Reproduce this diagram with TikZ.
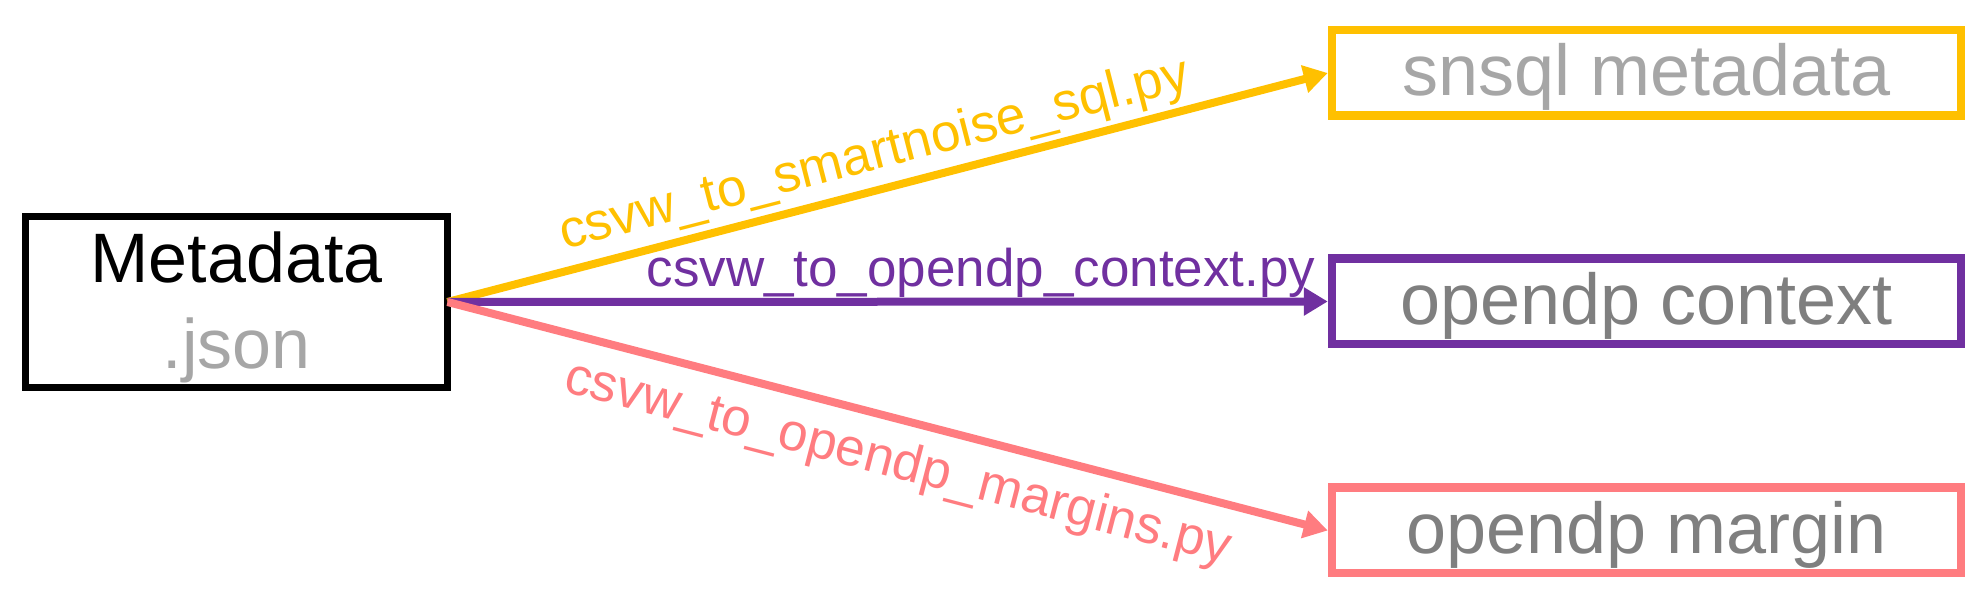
\documentclass[tikz,border=0pt]{standalone}
\usepackage{fontspec}
\setmainfont{Liberation Sans}
\usetikzlibrary{arrows.meta,calc}
\definecolor{ylw}{HTML}{FFC000}
\definecolor{prp}{HTML}{7030A0}
\definecolor{pnk}{HTML}{FF7C80}
\definecolor{gryL}{HTML}{A6A6A6}
\definecolor{gryD}{HTML}{7F7F7F}
\begin{document}
\begin{tikzpicture}[x=0.5pt,y=-0.5pt,
  outbox/.style={draw, line width=4.25pt, minimum width=314.5pt, minimum height=42.75pt,
    inner sep=0pt, font=\fontsize{36pt}{43pt}\selectfont, text height=26pt, text depth=3pt},
  conn/.style={line width=4pt, -{Triangle[length=12pt,width=13.5pt]}},
  lbl/.style={font=\fontsize{26.5pt}{32pt}\selectfont, inner sep=0pt}
]
\useasboundingbox (0,0) rectangle (1980,613);
\node[draw, line width=3.5pt, outer sep=0pt, minimum width=211pt, minimum height=85.5pt,
  inner sep=0pt, align=center, font=\fontsize{35pt}{43pt}\selectfont]
  (M) at (236.5,302) {\rule{0pt}{30.5pt}Metadata\\\textcolor{gryL}{.json}};
\node[outbox, draw=ylw, text=gryL] (S) at (1646.5,73) {snsql metadata};
\node[outbox, draw=prp, text=gryD] (C) at (1646.5,301.5) {opendp context};
\node[outbox, draw=pnk, text=gryD] (G) at (1646.5,530.5) {opendp margin};

\draw[conn, ylw] (M.east) -- (S.west);
\draw[conn, prp] (M.east) -- (C.west);
\draw[conn, pnk] (M.east) -- (G.west);

\coordinate (ys) at ($(M.east)!0.495!(S.west)$);
\coordinate (gs) at ($(M.east)!0.524!(G.west)$);
\node[lbl, text=ylw, rotate=14.4] (LS) at ($(ys)!17pt!90:(S.west)$) {csvw\_to\_smartnoise\_sql.py};
\node[lbl, text=prp, anchor=base] (LC) at ($(M.east)!0.606!(C.west)+(0,-15)$) {csvw\_to\_opendp\_context.py};
\node[lbl, text=pnk, rotate=-14.6] (LG) at ($(gs)!22pt!-90:(G.west)$) {csvw\_to\_opendp\_margins.py};
\end{tikzpicture}
\end{document}
